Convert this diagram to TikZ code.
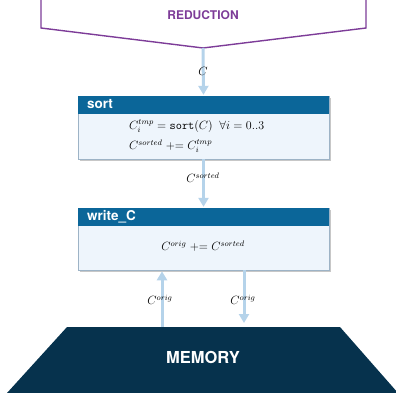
\documentclass[tikz,border=0pt]{standalone}
\usepackage{fontspec}
\setsansfont{TeX Gyre Heros}
\usetikzlibrary{arrows.meta}
\definecolor{redpurple}{HTML}{7D3C98}
\definecolor{flowblue}{HTML}{B5D3EA}
\definecolor{headblue}{HTML}{0B6699}
\definecolor{bodyfill}{HTML}{EEF5FC}
\definecolor{bodyline}{HTML}{9DB3C6}
\definecolor{memnavy}{HTML}{06324D}
\newcommand{\pluseq}{\mathrel{{+}{=}}}
\begin{document}
\begin{tikzpicture}[x=1pt,y=-1pt,
  flow/.style={draw=flowblue,line width=3pt,-{Triangle[width=10pt,length=9pt]},shorten >=1pt},
  bodybox/.style={rectangle,fill=bodyfill,draw=bodyline,line width=0.6pt,minimum width=251pt,inner sep=0pt},
  headbox/.style={rectangle,fill=headblue,minimum width=251pt,minimum height=18pt,inner sep=0pt},
  headtext/.style={font=\sffamily\bfseries\fontsize{13.5}{15}\selectfont,text=white,anchor=west,inner sep=0pt},
  mathtext/.style={font=\fontsize{12}{14}\selectfont,inner sep=0pt},
  shadowbox/.style={fill=black!22,minimum width=251pt,inner sep=0pt}
]
\useasboundingbox (0,0) rectangle (396,393);

% reduction bracket
\coordinate (redtip) at (203,48);
\draw[redpurple,line width=1.4pt] (41,0) -- (41,28) -- (redtip) -- (366,28) -- (366,0);
\node[font=\sffamily\bfseries\fontsize{12}{14}\selectfont,text=redpurple] (reduction) at (203,15) {REDUCTION};

% sort stage
\node[shadowbox,minimum height=63pt] at (205,129.5) {};
\node[bodybox,minimum height=63pt] (sortbody) at (203.5,127.5) {};
\node[headbox] (sorthead) at (203.5,105) {};
\node[headtext] (sortlabel) at (87,104.5) {sort};
\node[mathtext,anchor=west] (sortline1) at (129,126) {$C_i^{tmp}=\texttt{sort}(C)\;\;\forall i=0..3$};
\node[mathtext,anchor=west] (sortline2) at (129,146) {$C^{sorted}\pluseq C_i^{tmp}$};

% write_C stage
\node[shadowbox,minimum height=62pt] at (205,241) {};
\node[bodybox,minimum height=62pt] (writebody) at (203.5,239) {};
\node[headbox] (writehead) at (203.5,217) {};
\node[headtext] (writelabel) at (87,216.5) {write\_C};
\node[mathtext] (writeline) at (203,246) {$C^{orig}\pluseq C^{sorted}$};

% memory
\fill[memnavy] (67,327) -- (340,327) -- (398,393) -- (7,393) -- cycle;
\node[font=\sffamily\bfseries\fontsize{16.5}{19}\selectfont,text=white] (memory) at (203,357) {MEMORY};
\coordinate (upfoot) at (162,327);
\coordinate (downtip) at (244,327);

% data flow
\draw[flow] (redtip) -- (sorthead.north);
\node[mathtext] (clabel) at (203,71) {$C$};
\draw[flow] (sortbody.south) -- (writehead.north);
\node[mathtext] (sortedlabel) at (203,178) {$C^{sorted}$};
\draw[flow] (upfoot) -- (upfoot |- writebody.south);
\node[mathtext] (origup) at (160,300) {$C^{orig}$};
\draw[flow,shorten >=4pt] (downtip |- writebody.south) -- (downtip);
\node[mathtext] (origdown) at (243,300) {$C^{orig}$};
\end{tikzpicture}
\end{document}
